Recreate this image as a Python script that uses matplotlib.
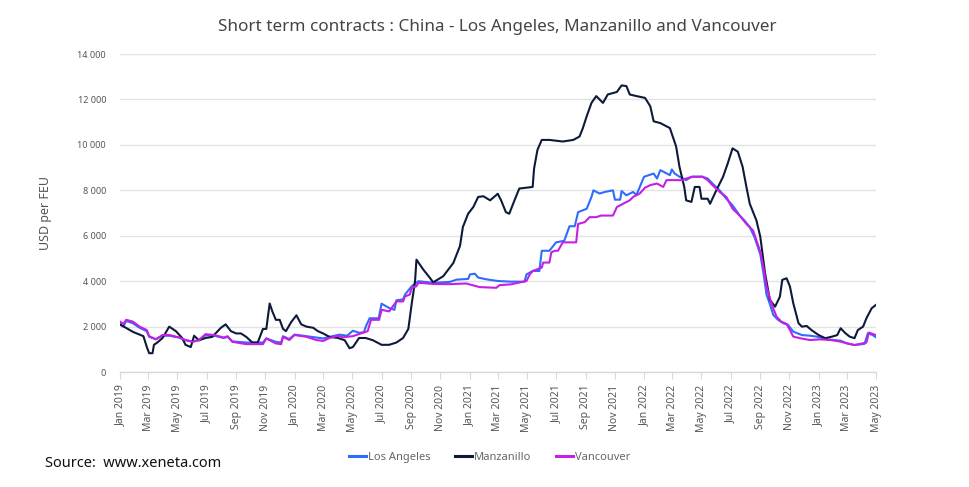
import pandas as pd
import matplotlib
matplotlib.use("Agg")
import matplotlib.pyplot as plt
import matplotlib.dates as mdates
from matplotlib.ticker import FuncFormatter

plt.rcParams["font.family"] = ["Noto Sans", "DejaVu Sans"]

# Los Angeles (USD per FEU)
la_dates = [
    "2019-01-01", "2019-01-08", "2019-01-14", "2019-01-28", "2019-02-11", "2019-02-26",
    "2019-03-03", "2019-03-17", "2019-03-31", "2019-04-14", "2019-05-05", "2019-05-18",
    "2019-06-02", "2019-06-15", "2019-06-29", "2019-07-17", "2019-08-06", "2019-08-14",
    "2019-08-24", "2019-09-22", "2019-10-27", "2019-11-03", "2019-11-23", "2019-12-04",
    "2019-12-08", "2019-12-21", "2020-01-01", "2020-01-26", "2020-02-16", "2020-03-01",
    "2020-03-14", "2020-04-04", "2020-04-20", "2020-05-02", "2020-05-15", "2020-05-25",
    "2020-05-29", "2020-06-06", "2020-06-25", "2020-07-01", "2020-07-17", "2020-07-28",
    "2020-08-01", "2020-08-15", "2020-08-19", "2020-09-02", "2020-09-16", "2020-10-17",
    "2020-11-21", "2020-12-05", "2020-12-29", "2021-01-02", "2021-01-12", "2021-01-19",
    "2021-02-06", "2021-03-01", "2021-03-28", "2021-04-26", "2021-04-30", "2021-05-13",
    "2021-05-27", "2021-06-01", "2021-06-17", "2021-07-01", "2021-07-18", "2021-07-29",
    "2021-08-09", "2021-08-16", "2021-09-03", "2021-09-13", "2021-09-17", "2021-09-30",
    "2021-10-11", "2021-10-28", "2021-11-01", "2021-11-12", "2021-11-15", "2021-11-25",
    "2021-12-09", "2021-12-16", "2022-01-01", "2022-01-21", "2022-01-28", "2022-02-04",
    "2022-02-24", "2022-02-28", "2022-03-06", "2022-03-16", "2022-03-30", "2022-04-10",
    "2022-05-03", "2022-05-14", "2022-05-24", "2022-06-08", "2022-06-22", "2022-07-05",
    "2022-07-20", "2022-07-30", "2022-08-10", "2022-08-20", "2022-09-01", "2022-09-08",
    "2022-09-14", "2022-09-21", "2022-09-28", "2022-10-08", "2022-10-19", "2022-10-29",
    "2022-11-09", "2022-11-27", "2022-12-14", "2022-12-28", "2023-01-19", "2023-02-16",
    "2023-02-28", "2023-03-17", "2023-04-07", "2023-04-14", "2023-04-24", "2023-05-01",
]
la_values = [
    2100, 2000, 2250, 2150, 1950, 1800,
    1550, 1450, 1600, 1600, 1520, 1400,
    1350, 1400, 1620, 1600, 1500, 1550,
    1350, 1300, 1300, 1480, 1330, 1300,
    1580, 1450, 1650, 1580, 1520, 1480,
    1550, 1650, 1600, 1820, 1730, 1750,
    2000, 2370, 2370, 3010, 2820, 2740,
    3160, 3200, 3410, 3780, 4000, 3930,
    3970, 4070, 4100, 4300, 4330, 4160,
    4080, 4010, 3980, 3980, 4300, 4450,
    4450, 5340, 5340, 5710, 5780, 6420,
    6420, 7040, 7190, 7710, 8000, 7860,
    7930, 8000, 7590, 7590, 7970, 7780,
    7930, 7800, 8600, 8740, 8520, 8890,
    8670, 8920, 8740, 8600, 8450, 8600,
    8600, 8520, 8300, 8000, 7630, 7340,
    6890, 6670, 6380, 5930, 5190, 4300,
    3410, 3000, 2520, 2300, 2150, 2080,
    1780, 1630, 1600, 1560, 1440, 1380,
    1270, 1190, 1240, 1710, 1630, 1530,
]

# Manzanillo
mz_dates = [
    "2019-01-01", "2019-01-28", "2019-02-19", "2019-02-26", "2019-03-03", "2019-03-10",
    "2019-03-13", "2019-03-20", "2019-03-31", "2019-04-14", "2019-04-28", "2019-05-11",
    "2019-05-18", "2019-05-29", "2019-06-05", "2019-06-15", "2019-06-29", "2019-07-13",
    "2019-07-31", "2019-08-10", "2019-08-21", "2019-09-01", "2019-09-11", "2019-09-22",
    "2019-10-05", "2019-10-16", "2019-10-27", "2019-11-03", "2019-11-10", "2019-11-16",
    "2019-11-23", "2019-12-01", "2019-12-08", "2019-12-14", "2019-12-25", "2020-01-05",
    "2020-01-15", "2020-01-26", "2020-02-09", "2020-02-19", "2020-03-01", "2020-03-14",
    "2020-04-01", "2020-04-15", "2020-04-25", "2020-05-02", "2020-05-15", "2020-05-29",
    "2020-06-13", "2020-07-01", "2020-07-17", "2020-08-01", "2020-08-15", "2020-08-26",
    "2020-09-02", "2020-09-09", "2020-09-12", "2020-09-26", "2020-10-10", "2020-10-17",
    "2020-11-07", "2020-11-28", "2020-12-12", "2020-12-18", "2020-12-29", "2021-01-09",
    "2021-01-19", "2021-01-30", "2021-02-13", "2021-03-01", "2021-03-08", "2021-03-18",
    "2021-03-25", "2021-04-05", "2021-04-15", "2021-05-13", "2021-05-16", "2021-05-23",
    "2021-06-01", "2021-06-17", "2021-07-15", "2021-08-06", "2021-08-19", "2021-08-26",
    "2021-09-03", "2021-09-13", "2021-09-23", "2021-10-07", "2021-10-17", "2021-11-05",
    "2021-11-15", "2021-11-25", "2021-12-02", "2021-12-16", "2022-01-03", "2022-01-14",
    "2022-01-21", "2022-02-04", "2022-02-24", "2022-03-02", "2022-03-09", "2022-03-16",
    "2022-03-26", "2022-03-30", "2022-04-10", "2022-04-17", "2022-04-27", "2022-05-01",
    "2022-05-14", "2022-05-19", "2022-06-01", "2022-06-15", "2022-06-25", "2022-07-05",
    "2022-07-16", "2022-07-26", "2022-08-03", "2022-08-10", "2022-08-24", "2022-09-01",
    "2022-09-11", "2022-09-21", "2022-10-02", "2022-10-12", "2022-10-17", "2022-10-26",
    "2022-11-02", "2022-11-09", "2022-11-20", "2022-11-27", "2022-12-07", "2022-12-17",
    "2023-01-01", "2023-01-15", "2023-01-29", "2023-02-09", "2023-02-16", "2023-02-26",
    "2023-03-07", "2023-03-17", "2023-03-24", "2023-04-04", "2023-04-11", "2023-04-22",
    "2023-05-01",
]
mz_values = [
    2100, 1770, 1580, 1110, 830, 830,
    1200, 1300, 1500, 2000, 1800, 1500,
    1200, 1100, 1600, 1400, 1500, 1550,
    1950, 2100, 1800, 1700, 1700, 1550,
    1300, 1300, 1900, 1900, 3020, 2650,
    2300, 2300, 1900, 1800, 2200, 2500,
    2100, 2000, 1950, 1800, 1700, 1550,
    1500, 1400, 1050, 1100, 1500, 1500,
    1400, 1200, 1200, 1300, 1500, 1900,
    3000, 4000, 4950, 4520, 4150, 3950,
    4220, 4800, 5550, 6380, 6970, 7270,
    7710, 7740, 7560, 7850, 7560, 7040,
    6970, 7560, 8080, 8150, 8970, 9780,
    10220, 10220, 10150, 10220, 10370, 10740,
    11260, 11850, 12150, 11850, 12220, 12330,
    12620, 12590, 12220, 12150, 12070, 11700,
    11040, 10960, 10740, 10370, 9930, 9040,
    8150, 7560, 7490, 8150, 8150, 7630,
    7630, 7410, 8000, 8590, 9190, 9850,
    9700, 9040, 8150, 7410, 6670, 5960,
    4350, 3180, 2880, 3320, 4060, 4130,
    3770, 3030, 2150, 2000, 2030, 1850,
    1630, 1490, 1560, 1630, 1930, 1710,
    1560, 1490, 1850, 2000, 2370, 2810,
    2960,
]

# Vancouver
va_dates = [
    "2019-01-01", "2019-01-08", "2019-01-14", "2019-01-28", "2019-02-11", "2019-02-26",
    "2019-03-03", "2019-03-17", "2019-03-31", "2019-04-14", "2019-05-05", "2019-05-18",
    "2019-06-02", "2019-06-15", "2019-06-29", "2019-07-17", "2019-08-06", "2019-08-14",
    "2019-08-24", "2019-09-22", "2019-10-27", "2019-11-03", "2019-11-23", "2019-12-04",
    "2019-12-08", "2019-12-21", "2020-01-01", "2020-01-26", "2020-02-16", "2020-03-01",
    "2020-03-14", "2020-04-01", "2020-04-11", "2020-05-02", "2020-05-19", "2020-06-02",
    "2020-06-09", "2020-06-26", "2020-07-01", "2020-07-17", "2020-08-01", "2020-08-15",
    "2020-08-19", "2020-08-29", "2020-09-02", "2020-09-12", "2020-09-16", "2020-10-17",
    "2020-11-21", "2020-12-25", "2021-01-22", "2021-02-26", "2021-03-05", "2021-03-28",
    "2021-04-30", "2021-05-07", "2021-05-13", "2021-06-01", "2021-06-04", "2021-06-17",
    "2021-06-21", "2021-06-28", "2021-07-05", "2021-07-15", "2021-08-12", "2021-08-16",
    "2021-08-30", "2021-09-09", "2021-09-23", "2021-10-03", "2021-10-28", "2021-11-05",
    "2021-11-18", "2021-12-02", "2021-12-09", "2021-12-23", "2022-01-03", "2022-01-14",
    "2022-01-28", "2022-02-10", "2022-02-17", "2022-03-23", "2022-03-30", "2022-04-13",
    "2022-05-03", "2022-05-14", "2022-05-24", "2022-06-08", "2022-06-22", "2022-07-05",
    "2022-07-20", "2022-08-03", "2022-08-17", "2022-09-01", "2022-09-08", "2022-09-14",
    "2022-09-21", "2022-09-28", "2022-10-05", "2022-10-15", "2022-10-26", "2022-11-02",
    "2022-11-09", "2022-11-23", "2022-12-14", "2023-01-04", "2023-01-26", "2023-02-16",
    "2023-02-28", "2023-03-17", "2023-04-04", "2023-04-11", "2023-04-16", "2023-04-24",
    "2023-05-01",
]
va_values = [
    2220, 2120, 2300, 2220, 2000, 1850,
    1580, 1440, 1630, 1630, 1520, 1410,
    1330, 1410, 1670, 1630, 1520, 1580,
    1330, 1230, 1230, 1480, 1260, 1230,
    1550, 1410, 1630, 1550, 1410, 1370,
    1500, 1600, 1530, 1580, 1700, 1800,
    2300, 2300, 2740, 2670, 3110, 3110,
    3330, 3410, 3700, 3780, 3930, 3880,
    3870, 3900, 3740, 3710, 3830, 3860,
    4010, 4300, 4450, 4600, 4820, 4820,
    5270, 5340, 5340, 5710, 5710, 6520,
    6600, 6820, 6820, 6890, 6890, 7260,
    7410, 7560, 7710, 7860, 8120, 8230,
    8300, 8150, 8450, 8450, 8520, 8600,
    8600, 8450, 8230, 7930, 7710, 7190,
    6890, 6520, 6230, 5300, 4550, 3770,
    3250, 2810, 2440, 2220, 2120, 1850,
    1560, 1490, 1410, 1440, 1410, 1340,
    1270, 1190, 1270, 1300, 1740, 1680,
    1630,
]

fig = plt.figure(figsize=(9.7, 4.87), dpi=100)
fig.patch.set_facecolor("white")
ax = fig.add_axes([0.1237, 0.236, 0.7794, 0.653])

ax.plot(pd.to_datetime(la_dates), la_values, color="#2f6bff", linewidth=1.5,
        label="Los Angeles", zorder=3)
ax.plot(pd.to_datetime(mz_dates), mz_values, color="#0d1a3a", linewidth=1.5,
        label="Manzanillo", zorder=4)
ax.plot(pd.to_datetime(va_dates), va_values, color="#c51fe4", linewidth=1.5,
        label="Vancouver", zorder=5)

ax.set_xlim(pd.Timestamp("2019-01-01"), pd.Timestamp("2023-05-01"))
ax.set_ylim(0, 14000)
ax.set_yticks(range(0, 14001, 2000))
ax.yaxis.set_major_formatter(FuncFormatter(lambda v, p: f"{int(v):,}".replace(",", " ")))

ax.xaxis.set_major_locator(mdates.MonthLocator(bymonth=[1, 3, 5, 7, 9, 11]))
ax.xaxis.set_major_formatter(mdates.DateFormatter("%b %Y"))
plt.setp(ax.get_xticklabels(), rotation=90, ha="center", va="top")

ax.tick_params(axis="x", labelsize=7.5, colors="#555555", length=5, width=0.8,
               color="#d9d9d9", pad=4)
ax.tick_params(axis="y", labelsize=6.5, colors="#555555", length=0, pad=10)

ax.grid(axis="y", color="#e3e3e3", linewidth=1)
ax.set_axisbelow(True)
for side in ["top", "right", "left"]:
    ax.spines[side].set_visible(False)
ax.spines["bottom"].set_color("#d9d9d9")
ax.spines["bottom"].set_linewidth(1)

ax.set_ylabel("USD per FEU", fontsize=9, color="#555555", labelpad=18)

fig.text(0.513, 0.945, "Short term contracts : China - Los Angeles, Manzanillo and Vancouver",
         fontsize=12.3, color="#444444", ha="center", va="center")

handles, labels = ax.get_legend_handles_labels()
leg = fig.legend(handles, labels, loc="center", bbox_to_anchor=(0.505, 0.06), ncol=3,
                 frameon=False, fontsize=8, handlelength=1.5, handletextpad=0.2,
                 columnspacing=2.2, labelcolor="#666666")
for line in leg.get_lines():
    line.set_linewidth(2.2)

fig.text(0.046, 0.048, "Source:  www.xeneta.com", fontsize=10.5, color="#111111",
         ha="left", va="center")

fig.savefig("out.png", dpi=100)
